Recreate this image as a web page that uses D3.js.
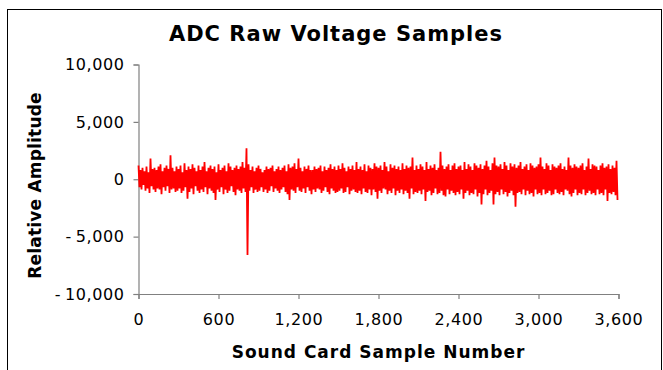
<!DOCTYPE html>
<html>
<head>
<meta charset="utf-8">
<script src="https://cdn.jsdelivr.net/npm/d3@7"></script>
<style>
   body { margin: 0; background: #fff; }
   #chart { width: 663px; height: 370px; }
   svg text { font-family: "DejaVu Sans", Verdana, sans-serif; fill: #000; }
</style>
</head>
<body>
<div id="chart"></div>
<script>
// Axis ticks
const xTicks = [0, 600, 1200, 1800, 2400, 3000, 3600];
const yTicks = [-10000, -5000, 0, 5000, 10000];

// Envelope: each bin covers 15 samples,
// highest and lowest amplitude in the bin, in hundreds
const binSize = 15;
const binHighs = [
   12, 8, 10, 7, 11, 6, 18, 9, 10, 8,
   11, 13, 7, 10, 12, 9, 21, 10, 7, 11,
   9, 12, 6, 14, 8, 11, 9, 13, 10, 7,
   12, 8, 11, 15, 7, 10, 12, 9, 11, 6,
   13, 8, 10, 12, 7, 14, 11, 8, 10, 12,
   9, 11, 15, 10, 27, 13, 8, 11, 7, 10,
   12, 9, 6, 8, 11, 9, 10, 12, 7, 9,
   11, 8, 10, 12, 7, 13, 10, 11, 14, 9,
   18, 10, 7, 11, 9, 12, 8, 8, 11, 9,
   10, 12, 7, 11, 8, 10, 13, 9, 11, 8,
   12, 9, 14, 10, 7, 11, 9, 12, 8, 15,
   9, 11, 8, 13, 7, 12, 10, 9, 14, 11,
   10, 12, 8, 15, 11, 7, 13, 10, 12, 9,
   11, 8, 14, 9, 12, 10, 11, 19, 8, 12,
   9, 13, 11, 8, 15, 9, 12, 10, 13, 8,
   10, 24, 12, 9, 11, 13, 8, 12, 14, 9,
   11, 12, 8, 15, 9, 13, 11, 8, 14, 12,
   10, 13, 9, 12, 16, 11, 8, 14, 19, 12,
   11, 13, 9, 15, 12, 8, 14, 11, 13, 10,
   12, 15, 9, 11, 13, 8, 14, 12, 10, 11,
   13, 19, 11, 9, 14, 12, 8, 13, 11, 10,
   12, 14, 9, 11, 8, 19, 12, 10, 13, 11,
   10, 12, 14, 8, 11, 18, 9, 13, 12, 11,
   8, 12, 14, 10, 11, 13, 9, 12, 10, 16
];
const binLows = [
   -7, -9, -5, -10, -8, -12, -6, -9, -11, -8,
   -9, -13, -7, -10, -6, -12, -9, -8, -11, -10,
   -8, -12, -10, -7, -17, -11, -8, -13, -6, -10,
   -12, -9, -11, -7, -13, -8, -10, -12, -18, -9,
   -11, -7, -13, -9, -12, -10, -6, -11, -14, -9,
   -10, -12, -8, -11, -66, -10, -7, -12, -9, -11,
   -10, -7, -11, -9, -12, -10, -6, -11, -8, -10,
   -12, -9, -7, -11, -13, -18, -9, -10, -12, -7,
   -10, -11, -8, -12, -7, -10, -13, -9, -11, -8,
   -9, -12, -10, -7, -11, -13, -8, -10, -12, -11,
   -10, -8, -12, -11, -7, -13, -10, -9, -11, -12,
   -10, -13, -8, -11, -12, -9, -14, -9, -11, -17,
   -10, -12, -8, -9, -13, -10, -12, -8, -14, -10,
   -12, -9, -13, -10, -12, -17, -8, -13, -11, -12,
   -10, -13, -9, -19, -11, -10, -14, -12, -8, -13,
   -12, -10, -14, -15, -9, -13, -10, -12, -14, -11,
   -13, -9, -17, -12, -10, -14, -12, -13, -9, -15,
   -12, -22, -13, -9, -14, -12, -10, -22, -13, -11,
   -14, -9, -13, -11, -15, -12, -10, -14, -24, -12,
   -11, -13, -9, -14, -10, -13, -12, -15, -9, -13,
   -12, -14, -9, -13, -12, -10, -14, -13, -9, -12,
   -13, -11, -14, -9, -10, -13, -15, -12, -9, -14,
   -12, -13, -9, -14, -12, -10, -13, -12, -14, -9,
   -13, -12, -14, -9, -19, -12, -13, -11, -14, -18
];

const chart = {
   width: 663,
   height: 370,
   plot: { left: 138.5, right: 618.5, top: 64.5, bottom: 294 }
};

// Build the sample points, high then low within every bin
const samples = [];
binHighs.forEach((h, i) => {
   samples.push({ x: i * binSize, y: h * 100 });
   samples.push({ x: i * binSize + binSize / 2, y: binLows[i] * 100 });
});

const svg = d3.select("#chart").append("svg")
   .attr("width", chart.width)
   .attr("height", chart.height);

// Outer chart border
svg.append("rect")
   .attr("x", 7.5).attr("y", 9.5)
   .attr("width", 654).attr("height", 380)
   .attr("fill", "none")
   .attr("stroke", "#000")
   .attr("stroke-width", 1);

const xScale = d3.scaleLinear().domain([0, 3600]).range([chart.plot.left, chart.plot.right]);
const yScale = d3.scaleLinear().domain([-10000, 10000]).range([chart.plot.bottom, chart.plot.top]);

const fmt = d3.format(",");
const yFmt = d => d < 0 ? "-\u2009" + fmt(-d) : fmt(d);

// Y axis
const yAxis = svg.append("g")
   .attr("transform", "translate(" + chart.plot.left + ",0)")
   .call(d3.axisLeft(yScale).tickValues(yTicks).tickFormat(yFmt).tickSize(5).tickPadding(9));

// X axis
const xAxis = svg.append("g")
   .attr("transform", "translate(0," + chart.plot.bottom + ")")
   .call(d3.axisBottom(xScale).tickValues(xTicks).tickFormat(fmt).tickSize(5).tickPadding(9));

[yAxis, xAxis].forEach(ax => {
   ax.select(".domain").attr("stroke", "#808080").attr("stroke-width", 1.2);
   ax.selectAll(".tick line").attr("stroke", "#808080").attr("stroke-width", 1.2);
   ax.selectAll(".tick text")
      .style("font-family", "'DejaVu Sans', Verdana, sans-serif")
      .style("font-size", "16px")
      .style("letter-spacing", "0.6px")
      .attr("fill", "#000");
});
xAxis.selectAll(".tick text").attr("dy", "1.05em");

// Signal trace
const line = d3.line()
   .x(d => xScale(d.x))
   .y(d => yScale(d.y));

svg.append("path")
   .datum(samples)
   .attr("fill", "none")
   .attr("stroke", "#ff0000")
   .attr("stroke-width", 1.8)
   .attr("stroke-linejoin", "bevel")
   .attr("d", line);

// Titles
svg.append("text")
   .attr("x", 336).attr("y", 41)
   .attr("text-anchor", "middle")
   .style("font-size", "21px")
   .style("font-weight", "bold")
   .style("letter-spacing", "1px")
   .text("ADC Raw Voltage Samples");

svg.append("text")
   .attr("x", (chart.plot.left + chart.plot.right) / 2).attr("y", 358)
   .attr("text-anchor", "middle")
   .style("font-size", "17px")
   .style("font-weight", "bold")
   .style("letter-spacing", "1px")
   .text("Sound Card Sample Number");

svg.append("text")
   .attr("transform", "translate(41,185.5) rotate(-90)")
   .attr("text-anchor", "middle")
   .style("font-size", "17px")
   .style("font-weight", "bold")
   .style("letter-spacing", "0.2px")
   .text("Relative Amplitude");
</script>
</body>
</html>
